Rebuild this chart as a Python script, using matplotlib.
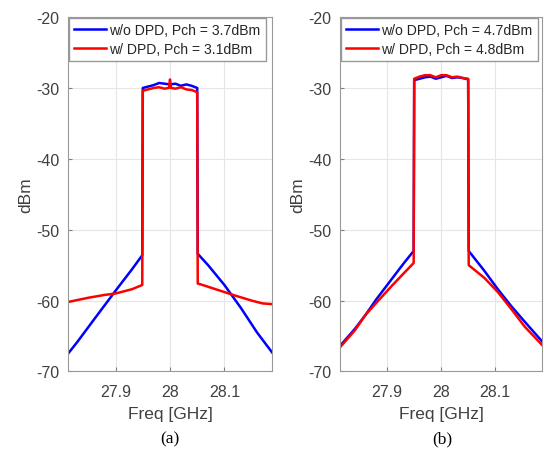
import numpy as np
import matplotlib.pyplot as plt

plt.rcParams['font.family'] = ['Liberation Sans', 'DejaVu Sans']
plt.rcParams['axes.unicode_minus'] = False

# panel (a)
a_freq_wo = [27.8125, 27.83, 27.86, 27.90, 27.93, 27.949, 27.950, 27.96, 27.97, 27.98, 27.99, 28.00,
             28.01, 28.02, 28.03, 28.04, 28.050, 28.051, 28.07, 28.10, 28.13, 28.16, 28.1875]
a_wo = [-67.5, -65.8, -62.7, -58.6, -55.6, -53.6, -30.0, -29.8, -29.6, -29.3, -29.4, -29.5,
        -29.4, -29.7, -29.5, -29.7, -30.0, -53.4, -55.0, -57.8, -61.0, -64.5, -67.3]
a_freq_w = [27.8125, 27.85, 27.88, 27.90, 27.93, 27.949, 27.950, 27.96, 27.97, 27.98, 27.99, 27.998,
            28.0, 28.002, 28.01, 28.02, 28.03, 28.04, 28.050, 28.051, 28.06, 28.08, 28.10, 28.12,
            28.15, 28.17, 28.1875]
a_w = [-60.2, -59.6, -59.2, -59.0, -58.4, -57.8, -30.4, -30.2, -30.0, -29.9, -30.1, -30.0,
       -28.8, -30.0, -30.1, -29.9, -30.2, -30.3, -30.6, -57.6, -57.8, -58.3, -58.8, -59.3,
       -60.0, -60.4, -60.5]

# panel (b)
b_freq = [27.8125, 27.84, 27.86, 27.88, 27.91, 27.93, 27.949, 27.950, 27.96, 27.97, 27.98, 27.99,
          28.0, 28.01, 28.02, 28.03, 28.04, 28.050, 28.051, 28.08, 28.105, 28.13, 28.155, 28.1875]
b_wo = [-66.4, -64.0, -62.0, -59.8, -56.8, -54.8, -53.0, -28.9, -28.7, -28.5, -28.4, -28.7,
        -28.5, -28.3, -28.6, -28.5, -28.6, -28.8, -53.0, -55.8, -58.4, -60.8, -63.0, -65.8]
b_w = [-66.6, -64.2, -62.0, -60.3, -57.8, -56.2, -54.7, -28.7, -28.4, -28.2, -28.2, -28.5,
       -28.2, -28.2, -28.5, -28.4, -28.6, -28.7, -55.0, -56.8, -58.8, -61.2, -63.7, -66.3]

labels_a = ['w/o DPD, Pch = 3.7dBm', 'w/ DPD, Pch = 3.1dBm']
labels_b = ['w/o DPD, Pch = 4.7dBm', 'w/ DPD, Pch = 4.8dBm']

fig = plt.figure(figsize=(5.44, 4.52), dpi=100)
ax_a = fig.add_axes([0.125, 0.176, 0.375, 0.784])
ax_b = fig.add_axes([0.625, 0.176, 0.372, 0.784])

panels = [(ax_a, a_freq_wo, a_wo, a_freq_w, a_w, labels_a, '(a)', 0.3125),
          (ax_b, b_freq, b_wo, b_freq, b_w, labels_b, '(b)', 0.8125)]

for ax, fx1, y1, fx2, y2, labs, cap, cx in panels:
    ax.plot(fx1, y1, color='#0000ff', linewidth=1.8, label=labs[0])
    ax.plot(fx2, y2, color='#ff0000', linewidth=1.8, label=labs[1])
    ax.set_xlim(27.8125, 28.1875)
    ax.set_ylim(-70, -20)
    ax.set_xticks([27.9, 28.0, 28.1])
    ax.set_xticklabels(['27.9', '28', '28.1'])
    ax.set_yticks([-70, -60, -50, -40, -30, -20])
    ax.grid(True, color='#e6e6e6', linewidth=0.8)
    ax.tick_params(direction='in', length=3, labelsize=11.5, colors='#808080', labelcolor='#404040')
    ax.tick_params(axis='x', pad=9)
    ax.tick_params(axis='y', pad=6)
    for s in ax.spines.values():
        s.set_color('#999999')
    ax.set_xlabel('Freq [GHz]', fontsize=12.5, color='#404040', labelpad=5)
    ax.set_ylabel('dBm', fontsize=12.5, color='#404040', labelpad=2)
    leg = ax.legend(loc='upper left', fontsize=10.1, borderaxespad=0.05, handlelength=2.3,
                    handletextpad=0.25, borderpad=0.35, labelspacing=0.35, fancybox=False,
                    framealpha=1)
    leg.get_frame().set_edgecolor('#999999')
    for t in leg.get_texts():
        t.set_color('#262626')
    fig.text(cx, 0.027, cap, ha='center', va='center', fontsize=12.5,
             family=['Liberation Serif', 'DejaVu Serif'])

fig.savefig('out.png', dpi=100)
